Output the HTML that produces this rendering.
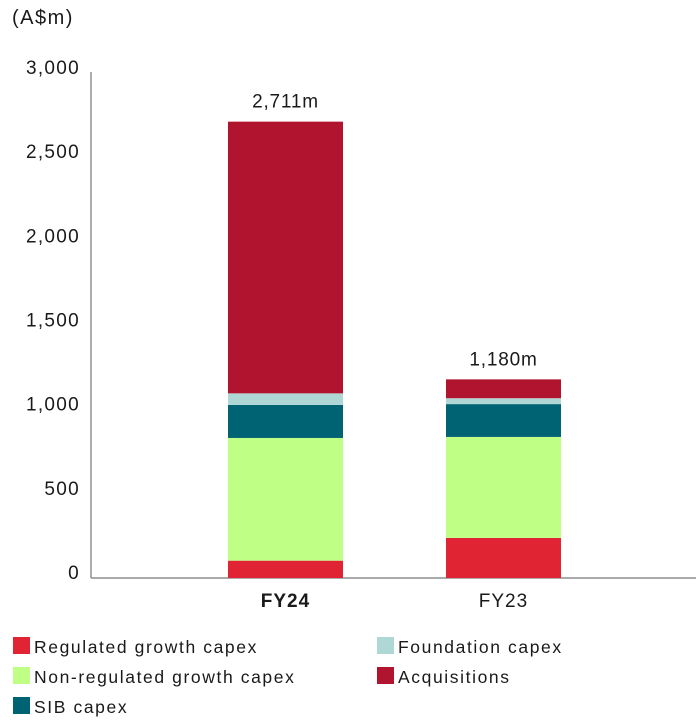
<!DOCTYPE html>
<html><head><meta charset="utf-8"><style>
body{margin:0;background:#fff;font-family:"Liberation Sans",sans-serif;}
svg text{font-family:"Liberation Sans",sans-serif;fill:#1a1a1a;}
</style></head><body>
<svg width="696" height="717">
<text x="12" y="24" font-size="20" letter-spacing="1.5">(A$m)</text>
<g id="yticks"></g>
<line x1="91" y1="72" x2="91" y2="578" stroke="#777" stroke-width="1.2"/>
<line x1="91" y1="578" x2="696" y2="578" stroke="#777" stroke-width="1.2"/>
<g id="bars"></g>
<g font-size="17.5" letter-spacing="1.6">
<rect x="13" y="637" width="17" height="17" fill="#e02433"/>
<text x="34" y="653">Regulated growth capex</text>
<rect x="13" y="667" width="17" height="17" fill="#c0ff86"/>
<text x="34" y="683">Non-regulated growth capex</text>
<rect x="13" y="697" width="17" height="17" fill="#006373"/>
<text x="34" y="713">SIB capex</text>
<rect x="377" y="637" width="17" height="17" fill="#afd7d6"/>
<text x="398" y="653">Foundation capex</text>
<rect x="377" y="667" width="17" height="17" fill="#b0142e"/>
<text x="398" y="683">Acquisitions</text>
</g>
</svg>
<script>
const categories = ["FY24","FY23"];
const regulated = [103, 238];
const nonRegulated = [729, 600];
const sib = [196, 195];
const foundation = [69, 35];
const acquisitions = [1614, 112];
const totals = ["2,711m","1,180m"];
const yTicks = [0,500,1000,1500,2000,2500,3000];
const yTickLabels = ["0","500","1,000","1,500","2,000","2,500","3,000"];

const NS="http://www.w3.org/2000/svg";
const y0=578, pxPer=505/3000;
function yScale(v){return y0 - v*pxPer;}
const barX=[228,446], barW=115;
function xScale(i){return barX[i];}

const tg=document.getElementById('yticks');
yTicks.forEach((v,i)=>{
  const t=document.createElementNS(NS,'text');
  t.setAttribute('x',80);t.setAttribute('y',yScale(v)+1);
  t.setAttribute('text-anchor','end');t.setAttribute('font-size','19');
  t.setAttribute('letter-spacing','1.3');
  t.textContent=yTickLabels[i];
  
  
  tg.appendChild(t);
});

const series=[[regulated,'#e02433','regulated'],[nonRegulated,'#c0ff86','non-regulated'],[sib,'#006373','sib'],[foundation,'#afd7d6','foundation'],[acquisitions,'#b0142e','acquisitions']];
const bg=document.getElementById('bars');
categories.forEach((c,i)=>{
  let acc=0;
  series.forEach(s=>{
    const v=s[0][i];
    const r=document.createElementNS(NS,'rect');
    r.setAttribute('x',xScale(i));r.setAttribute('width',barW);
    r.setAttribute('y',yScale(acc+v));r.setAttribute('height',v*pxPer);
    r.setAttribute('fill',s[1]);
    
    
    bg.appendChild(r);
    acc+=v;
  });
  const t=document.createElementNS(NS,'text');
  t.setAttribute('x',xScale(i)+barW/2);t.setAttribute('y',yScale(acc)-14);
  t.setAttribute('text-anchor','middle');t.setAttribute('font-size','19');
  t.setAttribute('letter-spacing','0.8');
  t.textContent=totals[i];
  
  
  bg.appendChild(t);
  const l=document.createElementNS(NS,'text');
  l.setAttribute('x',xScale(i)+barW/2);l.setAttribute('y',607);
  l.setAttribute('text-anchor','middle');l.setAttribute('font-size','19');
  l.setAttribute('letter-spacing','1');
  if(i===0)l.setAttribute('font-weight','bold');
  l.textContent=c;
  
  
  bg.appendChild(l);
});
</script>
</body></html>
